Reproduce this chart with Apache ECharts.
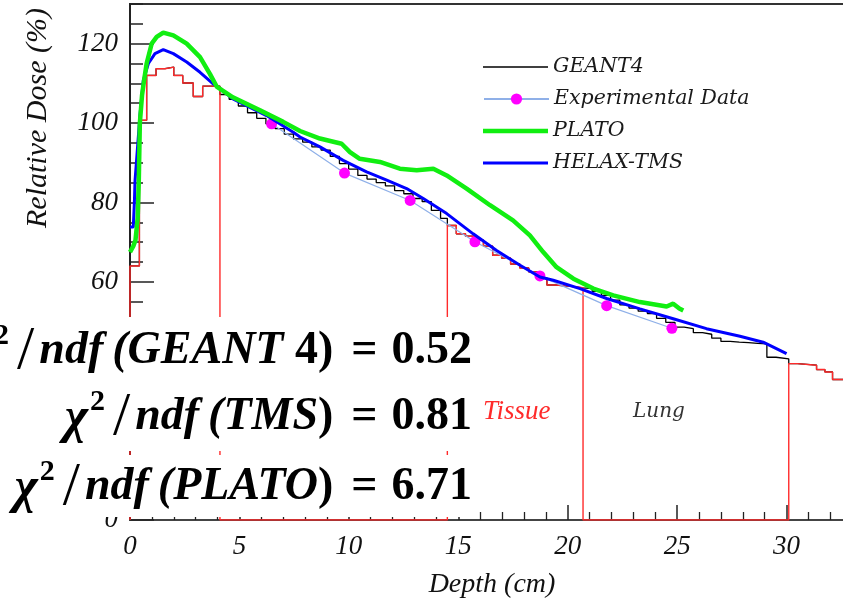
<!DOCTYPE html>
<html><head><meta charset="utf-8">
<script src="https://cdn.jsdelivr.net/npm/echarts@6/dist/echarts.min.js"></script>
<style>html,body{margin:0;padding:0;background:#fff;overflow:hidden}#c{width:843px;height:603px}</style>
</head><body><div id="c"></div>
<script>
// ---- data ----
const depthRange = [0, 35];
const doseRange = [0, 130];
const tissueRanges = [[0, 4.11], [14.5, 20.7], [30.1, 40]];

const geantEdges = [
  0, 0.43, 0.76, 1.19, 1.6, 2.0, 2.41, 2.89, 3.32,
  4.11, 4.53, 4.95, 5.37, 5.79, 6.21, 6.63, 7.05, 7.47, 7.89, 8.31, 8.73, 9.15, 9.57, 9.99, 10.41, 10.83, 11.25, 11.67, 12.09, 12.51, 12.93, 13.35, 13.77, 14.19,
  14.5, 14.91, 15.33, 15.74, 16.15, 16.57, 16.98, 17.39, 17.81, 18.22, 18.63, 19.05, 19.46, 19.87, 20.29,
  20.7, 21.12, 21.54, 21.96, 22.38, 22.8, 23.22, 23.64, 24.06, 24.48, 24.9, 25.32, 25.74, 26.16, 26.58, 27.0, 27.42, 27.84, 28.26, 28.68, 29.1, 29.52,
  30.1, 30.5, 31.37, 31.75, 32.1, 33.5
];
const geantDose = [
  64, 100.7, 112, 113.7, 114.1, 112, 110.1, 106.7, 109.3,
  107.2, 106.0, 104.3, 102.6, 101.2, 99.8, 98.6, 97.2, 96.0, 95.2, 94.0, 93.2, 91.6, 89.8, 88.4, 86.8, 85.9, 85.0, 84.2, 83.0, 82.2, 81.0, 80.2, 78.0, 76.0,
  74.2, 72.1, 71.5, 70.5, 69.0, 66.7, 66.0, 64.5, 63.5, 62.5, 61.0, 59.2, 59.0, 58.8, 58.5,
  58.3, 57.6, 56.6, 55.4, 54.2, 53.4, 52.6, 52.0, 50.8, 49.8, 48.6, 48.2, 47.2, 46.8, 45.8, 45.0, 44.8, 44.7, 44.5, 44.4, 41.0, 40.6,
  39.4, 39.0, 37.9, 37.3, 35.4
];

const expDepth = [6.47, 9.8, 12.8, 15.76, 18.73, 21.78, 24.76];
const expDose  = [99.8, 87.4, 80.5, 70.1, 61.5, 54.0, 48.3];

const platoDepth = [0, 0.15, 0.25, 0.35, 0.4, 0.45, 0.55, 0.65, 0.76, 0.99, 1.22, 1.52, 1.98, 2.59, 3.2, 3.65, 3.96, 4.7, 5.94, 7.0, 7.77, 8.68, 9.67, 10.05, 10.5, 11.42, 12.33, 13.1, 13.86, 14.47, 15.38, 16.45, 17.5, 18.27, 18.88, 19.49, 20.26, 21.17, 22.08, 23.3, 24.52, 24.82, 25.1, 25.28];
const platoDose  = [67.5, 69, 70.5, 76, 85, 100, 107, 111, 115, 120, 121.7, 122.8, 122.1, 120, 116.6, 112.4, 109.2, 106.5, 103.2, 100.3, 98, 96.1, 94.8, 92.7, 91, 90.2, 88.5, 88.1, 88.5, 86.8, 83.5, 79.3, 75.5, 71.7, 67.5, 63.7, 60.8, 58.3, 56.6, 54.9, 53.8, 54.5, 53.3, 52.8];

const helaxDepth = [0, 0.15, 0.2, 0.23, 0.3, 0.46, 0.61, 0.84, 1.14, 1.52, 1.98, 2.59, 3.2, 3.8, 4.11, 4.7, 6.24, 7.46, 7.77, 8.68, 9.74, 10.81, 11.73, 12.64, 13.4, 14.47, 15.68, 16.75, 17.82, 18.73, 19.34, 20.56, 21.78, 23.3, 24.82, 26.34, 27.87, 28.93, 30.0];
const helaxDose  = [73.8, 73.8, 80, 85.5, 90.6, 102.4, 110.8, 115, 117.5, 118.5, 117.5, 115.4, 112.8, 109.9, 108.7, 106.1, 101.9, 97.7, 96.5, 94, 90.6, 87.7, 85.6, 83.5, 81, 77.2, 72.1, 67.9, 64.2, 61.2, 60.4, 58.3, 55.8, 53.2, 50.7, 48.2, 46.3, 44.8, 41.9];

const chiModels = ['GEANT', 'TMS', 'PLATO'];
const chiSuffix = [' 4', '', ''];
const chiValues = ['0.52', '0.81', '6.71'];
const regionLabels = ['Tissue', 'Lung'];
const legendNames = ['GEANT4', 'Experimental Data', 'PLATO', 'HELAX-TMS'];

// ---- build ----
const pair = (xs, ys) => xs.map((x, i) => [x, ys[i]]);
function stepPoints(edges, vals, keep) {
  const pts = [];
  for (let i = 0; i < vals.length; i++) {
    const mid = (edges[i] + edges[i + 1]) / 2;
    pts.push([edges[i], keep(mid) ? vals[i] : 0]);
  }
  const last = vals.length - 1;
  pts.push([edges[edges.length - 1], keep((edges[last] + edges[last + 1]) / 2) ? vals[last] : 0]);
  return pts;
}
const inTissue = x => tissueRanges.some(r => x >= r[0] && x <= r[1]);
const geantData = stepPoints(geantEdges, geantDose, () => true);
const tissueData = [[0, 0]].concat(stepPoints(geantEdges, geantDose, inTissue));

const serif = 'Liberation Serif';
const legendFont = 'DejaVu Serif';
const chart = echarts.init(document.getElementById('c'));
const chiTexts = chiModels.map((m, i) =>
  '{chi|χ}{sup|2}{sl|/}{ndf|ndf}{it|(' + m + '}{b|' + chiSuffix[i] + ')}{eq|=}{b|' + chiValues[i] + '}');
const lift = 9;
const chiRich = {
  chi: {fontFamily: serif, fontStyle: 'italic', fontWeight: 'bold', fontSize: 50, verticalAlign: 'bottom', padding: [0, 0, lift - 4, 0]},
  sup: {fontFamily: serif, fontWeight: 'bold', fontSize: 30, verticalAlign: 'top', padding: [0, 8, 0, 2]},
  sl: {fontFamily: serif, fontSize: 62, verticalAlign: 'bottom', padding: [0, 5, 0, 0]},
  ndf: {fontFamily: serif, fontStyle: 'italic', fontWeight: 'bold', fontSize: 46, verticalAlign: 'bottom', padding: [0, 9, lift, 0]},
  it: {fontFamily: serif, fontStyle: 'italic', fontWeight: 'bold', fontSize: 46, verticalAlign: 'bottom', padding: [0, 0, lift, 0]},
  b: {fontFamily: serif, fontWeight: 'bold', fontSize: 46, verticalAlign: 'bottom', padding: [0, 0, lift, 0]},
  eq: {fontFamily: serif, fontWeight: 'bold', fontSize: 46, verticalAlign: 'bottom', padding: [0, 14, lift, 18]}
};
const chiY = [352, 418, 488];

const legendRowY = [62, 94, 126, 158];
const legendIconH = [1.5, 14, 4.5, 3];
const legends = legendNames.map((n, i) => ({
  orient: 'vertical', left: 478, top: legendRowY[i] - 11, itemWidth: 65,
  itemHeight: legendIconH[i], icon: i === 1 ? undefined : 'rect',
  data: [n], selectedMode: false,
  textStyle: {fontFamily: legendFont, fontStyle: 'italic', fontSize: 20.5, color: '#1a1a1a', lineHeight: 22}
}));

chart.setOption({
  animation: false,
  backgroundColor: '#fff',
  grid: {left: 130, top: 4, width: 766, height: 516, outerBoundsMode: 'none', containLabel: false,
         show: true, borderColor: '#333', borderWidth: 2, backgroundColor: 'transparent'},
  legend: legends,
  xAxis: {
    type: 'value', min: depthRange[0], max: depthRange[1], interval: 5,
    axisLine: {lineStyle: {color: '#444', width: 2}},
    axisTick: {inside: true, length: 15, lineStyle: {color: '#222', width: 1.5}},
    minorTick: {show: true, splitNumber: 5, length: 8, lineStyle: {color: '#222', width: 1.3}},
    splitLine: {show: false},
    axisLabel: {fontFamily: serif, fontStyle: 'italic', fontSize: 27, color: '#111', margin: 13}
  },
  yAxis: [{
    type: 'value', min: doseRange[0], max: doseRange[1], interval: 20,
    axisLine: {lineStyle: {color: '#222', width: 2}},
    axisTick: {inside: true, length: 24, lineStyle: {color: '#222', width: 1.5}},
    splitLine: {show: false},
    axisLabel: {fontFamily: serif, fontStyle: 'italic', fontSize: 27, color: '#111', margin: 12, showMaxLabel: false}
  }, {
    type: 'value', position: 'left', min: doseRange[0], max: doseRange[1], interval: 5,
    axisLine: {show: false},
    axisTick: {inside: true, length: 13, lineStyle: {color: '#222', width: 1.5}},
    splitLine: {show: false}, axisLabel: {show: false}
  }],
  series: [
    {name: 'GEANT4', type: 'line', step: 'end', data: geantData, symbol: 'none', z: 2,
     lineStyle: {color: '#000', width: 1.3}, itemStyle: {color: '#000'}},
    {name: 'Tissue histogram', type: 'line', step: 'end', data: tissueData, symbol: 'none', z: 3,
     lineStyle: {color: '#ff2a2a', width: 1.4}, itemStyle: {color: '#ff2a2a'}},
    {name: 'Experimental Data', type: 'line', data: pair(expDepth, expDose), symbol: 'circle', symbolSize: 11, z: 4,
     lineStyle: {color: '#8fb0e8', width: 1.2}, itemStyle: {color: '#ff00ff'}},
    {name: 'HELAX-TMS', type: 'line', data: pair(helaxDepth, helaxDose), symbol: 'none', z: 5,
     lineStyle: {color: '#0000ff', width: 3}, itemStyle: {color: '#0000ff'}},
    {name: 'PLATO', type: 'line', data: pair(platoDepth, platoDose), symbol: 'none', z: 6,
     lineStyle: {color: '#11ee11', width: 4.5}, itemStyle: {color: '#11ee11'}}
  ],
  graphic: [
    {type: 'text', z: 50, x: 38, y: 118, rotation: Math.PI / 2,
     style: {text: 'Relative Dose (%)', fontFamily: serif, fontStyle: 'italic', fontSize: 30, fill: '#111', align: 'center', verticalAlign: 'middle'}},
    {type: 'text', z: 50, x: 492, y: 585,
     style: {text: 'Depth (cm)', fontFamily: serif, fontStyle: 'italic', fontSize: 28, fill: '#111', align: 'center', verticalAlign: 'middle'}},
    {type: 'text', z: 50, x: 483, y: 412,
     style: {text: regionLabels[0], fontFamily: serif, fontStyle: 'italic', fontSize: 27, fill: '#ff2a2a', align: 'left', verticalAlign: 'middle'}},
    {type: 'text', z: 50, x: 633, y: 412,
     style: {text: regionLabels[1], fontFamily: legendFont, fontStyle: 'italic', fontSize: 20, fill: '#333', align: 'left', verticalAlign: 'middle'}},
    {type: 'rect', z: 100, shape: {x: 0, y: 317, width: 476, height: 134}, style: {fill: '#fff'}},
    {type: 'rect', z: 100, shape: {x: 0, y: 455, width: 476, height: 62}, style: {fill: '#fff'}},
    ...chiTexts.map((t, i) => ({type: 'text', z: 101, x: 472, y: chiY[i],
      style: {text: t, rich: chiRich, fill: '#000', align: 'right', verticalAlign: 'middle'}}))
  ]
});
</script></body></html>
